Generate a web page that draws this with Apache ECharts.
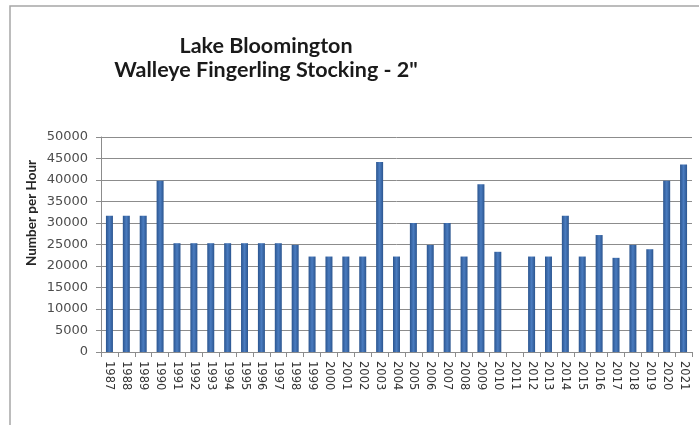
<!DOCTYPE html>
<html>
<head>
<meta charset="utf-8">
<script src="https://cdn.jsdelivr.net/npm/echarts@6/dist/echarts.min.js"></script>
<style>
html,body{margin:0;padding:0;background:#fff;}
#chart{width:699px;height:425px;}
</style>
</head>
<body>
<div id="chart"></div>
<script>
const titleLines = ['Lake Bloomington', 'Walleye Fingerling Stocking - 2"'];
const yAxisTitle = 'Number per Hour';
const years = ['1987','1988','1989','1990','1991','1992','1993','1994','1995','1996','1997','1998','1999','2000','2001','2002','2003','2004','2005','2006','2007','2008','2009','2010','2011','2012','2013','2014','2015','2016','2017','2018','2019','2020','2021'];
const numberPerHour = [31700,31700,31700,39800,25300,25300,25300,25300,25300,25300,25300,24900,22200,22200,22200,22200,44200,22200,30000,24900,30000,22200,39000,23300,null,22200,22200,31700,22200,27200,21900,24900,23900,39800,43600];
const yTicks = {min:0, max:50000, interval:5000};

const chart = echarts.init(document.getElementById('chart'), null, {renderer:'canvas'});
chart.setOption({
  animation:false,
  backgroundColor:'#fff',
  title:{
    text: titleLines.join('\n'),
    left: 261, top: 29, textAlign:'center',
    textStyle:{fontFamily:'Lato', fontWeight:'bold', fontSize:21.5, lineHeight:24, color:'#1a1a1a'}
  },
  graphic:[
    {type:'rect', shape:{x:10,y:6,width:800,height:600}, style:{fill:'none', stroke:'#a6a6a6', lineWidth:1.5}, silent:true},
    {type:'text', x:32, y:213, rotation:Math.PI/2,
     style:{text:yAxisTitle, fontFamily:'Lato', fontWeight:'bold', fontSize:13.5, fill:'#262626', align:'center', verticalAlign:'middle'}}
  ],
  grid:{left:101, right:7, top:137, bottom:73, containLabel:false},
  xAxis:{
    type:'category', data:years, boundaryGap:true,
    axisLine:{lineStyle:{color:'#8c8c8c', width:1}},
    axisTick:{show:true, alignWithLabel:false, length:5, lineStyle:{color:'#8c8c8c'}},
    axisLabel:{rotate:-90, interval:0, margin:9, fontFamily:'DejaVu Sans', fontSize:11.5, color:'#333'}
  },
  yAxis:{
    type:'value', min:yTicks.min, max:yTicks.max, interval:yTicks.interval,
    axisLine:{show:true, lineStyle:{color:'#8c8c8c'}},
    axisTick:{show:true, length:5, lineStyle:{color:'#8c8c8c'}},
    axisLabel:{margin:13, fontFamily:'DejaVu Sans', fontSize:13, color:'#4d4d4d', formatter:function(v){return String(v);}},
    splitLine:{lineStyle:{color:'#8c8c8c', width:1}}
  },
  series:[{
    type:'bar', data:numberPerHour, barWidth:7,
    itemStyle:{color:new echarts.graphic.LinearGradient(0,0,1,0,[
      {offset:0,color:'#2b558f'},{offset:0.5,color:'#4a7cc0'},{offset:1,color:'#2b558f'}])}
  }]
});
</script>
</body>
</html>
